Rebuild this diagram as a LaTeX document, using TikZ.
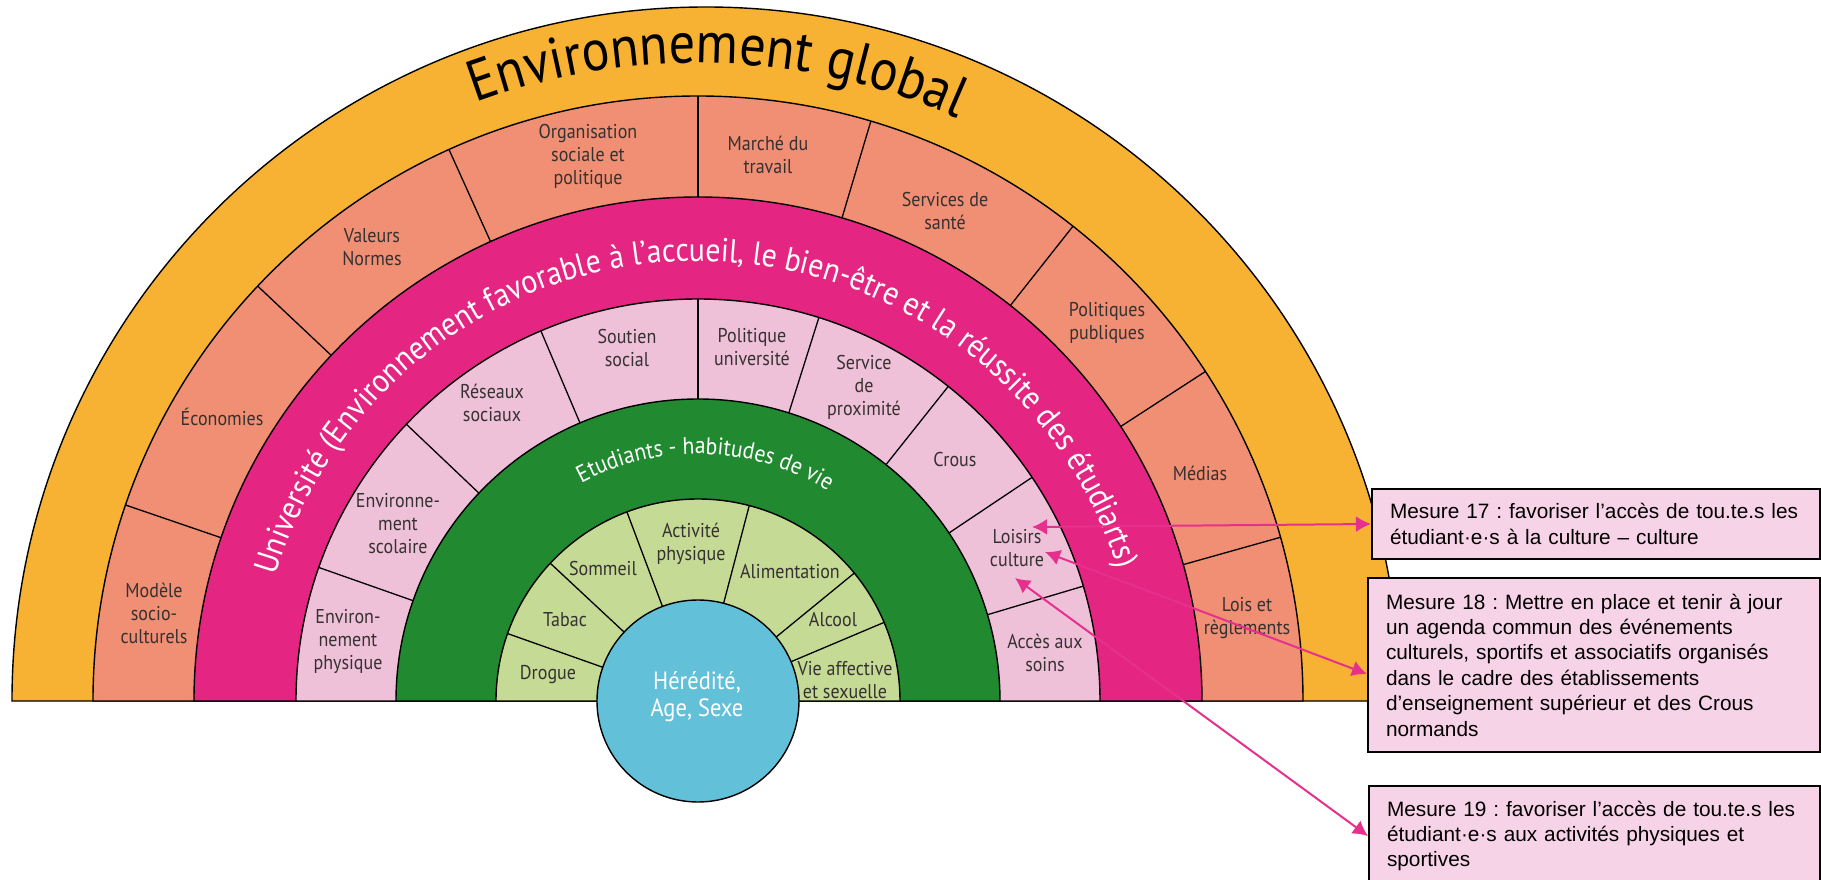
\documentclass[tikz,border=0pt]{standalone}
\usepackage{fontspec}
\usetikzlibrary{arrows.meta,decorations.text}
\newfontfamily\diagfont[FakeStretch=0.9]{PT Sans}
\newfontfamily\boxfont{Liberation Sans}
\definecolor{orangering}{HTML}{F7B234}
\definecolor{salmonring}{HTML}{F08F74}
\definecolor{magentaring}{HTML}{E42682}
\definecolor{pinkring}{HTML}{EFC1D9}
\definecolor{greenring}{HTML}{21892F}
\definecolor{lightgreenring}{HTML}{C5DA94}
\definecolor{bluecore}{HTML}{62C0D9}
\definecolor{boxpink}{HTML}{F7D3E7}
\definecolor{arrowpink}{HTML}{E5318D}
\definecolor{labgray}{HTML}{353131}
\tikzset{
  ring/.style={draw=black,line width=0.7pt},
  divider/.style={draw=black,line width=0.65pt},
  seglabel/.style={font=\diagfont\fontsize{10}{11.5}\selectfont,text=labgray,align=center,inner sep=0pt},
  mesure/.style={draw=black,line width=1pt,fill=boxpink,anchor=north west,align=left,
    inner xsep=9pt,font=\boxfont\fontsize{10.4}{12.7}\selectfont},
  link/.style={draw=arrowpink,line width=1pt,<->}
}
\begin{document}
\frenchspacing
\begin{tikzpicture}[x=0.5pt,y=0.5pt,>={Latex[length=7.5pt,width=8pt]}]
  \fill[white] (-698,-178) rectangle (1123,701);
  \clip (-698,-178) rectangle (1123,701);

  \filldraw[ring,fill=orangering] (-686,0) arc[start angle=180,end angle=0,radius=694] -- cycle;
  \filldraw[ring,fill=salmonring] (-605,0) arc[start angle=180,end angle=0,radius=605] -- cycle;
  \foreach \a in {161.1,136.7,114.3,90,73.4,51.7,33,15.7}
    \draw[divider] (\a:504) -- (\a:605);
  \filldraw[ring,fill=magentaring] (-504,0) arc[start angle=180,end angle=0,radius=504] -- cycle;
  \filldraw[ring,fill=pinkring] (-402,0) arc[start angle=180,end angle=0,radius=402] -- cycle;
  \foreach \a in {160.6,136.5,113,90,72.5,51.5,33.8,16.6}
    \draw[divider] (\a:302) -- (\a:402);
  \filldraw[ring,fill=greenring] (-302,0) arc[start angle=180,end angle=0,radius=302] -- cycle;
  \filldraw[ring,fill=lightgreenring] (-202,0) arc[start angle=180,end angle=0,radius=202] -- cycle;
  \foreach \a in {160.5,137,110.6,75.3,39.3,22.9}
    \draw[divider] (\a:101) -- (\a:202);
  \filldraw[ring,fill=bluecore] (0,0) circle[radius=101];

  \path[decorate,decoration={text along path,text align=center,
    text={|\diagfont\fontsize{29}{30}\selectfont|Environnement global}}]
    (178.2:638) arc[start angle=178.2,end angle=-1.8,radius=638];
  \path[decorate,decoration={text along path,text align=center,text color=white,
    text={|\diagfont\fontsize{16.6}{17}\selectfont|Université (Environnement favorable à l’accueil, le bien-être et la réussite des étudiarts)}}]
    (180.5:440) arc[start angle=180.5,end angle=0.5,radius=440];
  \path[decorate,decoration={text along path,text align=center,text color=white,
    text={|\diagfont\fontsize{12}{13}\selectfont|Etudiants - habitudes de vie}}]
    (178.2:247) arc[start angle=178.2,end angle=-1.8,radius=247];

  \node[seglabel] (modele) at (-544,88) {Modèle\\socio-\\culturels};
  \node[seglabel] (eco) at (-476,284) {Économies};
  \node[seglabel] (valeurs) at (-326,454) {Valeurs\\Normes};
  \node[seglabel] (orga) at (-110,545) {Organisation\\sociale et\\politique};
  \node[seglabel] (marche) at (70,546) {Marché du\\travail};
  \node[seglabel] (sante) at (247,490) {Services de\\santé};
  \node[seglabel] (polpub) at (409,378) {Politiques\\publiques};
  \node[seglabel] (medias) at (502,228) {Médias};
  \node[seglabel] (lois) at (549,83) {Lois et\\règlements};

  \node[seglabel] (envphys) at (-350,60) {Environ-\\nement\\physique};
  \node[seglabel] (envscol) at (-300,177) {Environne-\\ment\\scolaire};
  \node[seglabel] (reseaux) at (-206,298) {Réseaux\\sociaux};
  \node[seglabel] (soutien) at (-71,353) {Soutien\\social};
  \node[seglabel] (polu) at (54,354) {Politique\\université};
  \node[seglabel] (proxi) at (166,314) {Service\\de\\proximité};
  \node[seglabel] (crous) at (257,242) {Crous};
  \node[seglabel] (loisirs) at (319,153) {Loisirs\\culture};
  \node[seglabel] (acces) at (347,48) {Accès aux\\soins};

  \node[seglabel] (drogue) at (-150,26) {Drogue};
  \node[seglabel] (tabac) at (-133,81) {Tabac};
  \node[seglabel] (sommeil) at (-95,133) {Sommeil};
  \node[seglabel] (activite) at (-7,157) {Activité\\physique};
  \node[seglabel] (alim) at (92,129) {Alimentation};
  \node[seglabel] (alcool) at (135,81) {Alcool};
  \node[seglabel] (vie) at (147,21) {Vie affective\\et sexuelle};
  \node[seglabel,text=white,font=\diagfont\fontsize{12.5}{13.5}\selectfont] (heredite) at (-1,4) {Hérédité,\\Age, Sexe};

  \node[mesure,text width=206pt,minimum height=35pt] (m17) at (673,213)
    {Mesure 17 : favoriser l’accès de tou.te.s les\\étudiant·e·s à la culture – culture};
  \node[mesure,text width=208pt,minimum height=87pt] (m18) at (669,124)
    {Mesure 18 : Mettre en place et tenir à jour\\un agenda commun des événements\\culturels, sportifs et associatifs organisés\\dans le cadre des établissements\\d’enseignement supérieur et des Crous\\normands};
  \node[mesure,text width=207.5pt,minimum height=50pt] (m19) at (670,-84)
    {Mesure 19 : favoriser l’accès de tou.te.s les\\étudiant·e·s aux activités physiques et\\sportives};

  \coordinate (lc1) at (334,174);
  \coordinate (lc2) at (347,149);
  \coordinate (lc3) at (317,123);
  \draw[link] (lc1) -- (m17.west);
  \draw[link] (lc2) -- ([yshift=-4.5pt]m18.west);
  \draw[link] (lc3) -- (m19.west);
\end{tikzpicture}
\end{document}
